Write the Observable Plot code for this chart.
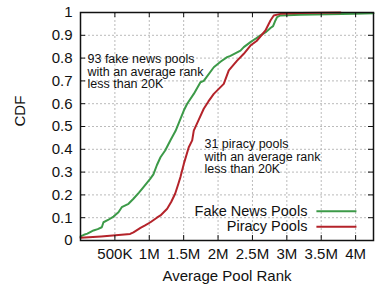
<!DOCTYPE html>
<html><head><meta charset="utf-8">
<script src="https://cdn.jsdelivr.net/npm/d3@7"></script>
<script src="https://cdn.jsdelivr.net/npm/@observablehq/plot@0.6"></script>
<style>body{margin:0;background:#fff}</style>
</head><body><div id="chart"></div>
<script>
const fakeRank = [0, 50, 100, 189, 250, 310, 334, 400, 480, 552, 600, 698, 770, 850, 916, 1013, 1060, 1110, 1163, 1231, 1308, 1381, 1405, 1502, 1551, 1647, 1744, 1792, 1938, 2040, 2132, 2180, 2326, 2374, 2471, 2560, 2616, 2700, 2762, 2800, 2834, 2858, 2907, 3200, 3600, 4000, 4260].map(v => v * 1000);
const fakeCdf = [0.018, 0.025, 0.03, 0.044, 0.05, 0.058, 0.08, 0.09, 0.105, 0.124, 0.146, 0.161, 0.183, 0.21, 0.234, 0.27, 0.29, 0.33, 0.365, 0.395, 0.44, 0.48, 0.497, 0.57, 0.6, 0.643, 0.694, 0.70, 0.76, 0.785, 0.804, 0.81, 0.833, 0.848, 0.87, 0.888, 0.9, 0.915, 0.932, 0.94, 0.965, 0.98, 0.987, 0.99, 0.992, 0.995, 0.997];
const piracyRank = [0, 300, 722, 770, 872, 939, 1017, 1110, 1163, 1260, 1320, 1376, 1423, 1453, 1502, 1574, 1624, 1647, 1720, 1792, 1860, 1938, 2083, 2156, 2277, 2374, 2471, 2560, 2689, 2762, 2810, 2907, 3200, 3780].map(v => v * 1000);
const piracyCdf = [0.012, 0.018, 0.029, 0.036, 0.055, 0.066, 0.08, 0.1, 0.11, 0.139, 0.17, 0.205, 0.249, 0.278, 0.336, 0.409, 0.439, 0.482, 0.53, 0.578, 0.61, 0.643, 0.687, 0.746, 0.789, 0.819, 0.855, 0.875, 0.921, 0.965, 0.987, 0.994, 0.998, 1.0];

const xTicks = [500000, 1000000, 1500000, 2000000, 2500000, 3000000, 3500000, 4000000];
const xTickLabels = ["500K", "1M", "1.5M", "2M", "2.5M", "3M", "3.5M", "4M"];
const yTicks = [0, 0.1, 0.2, 0.3, 0.4, 0.5, 0.6, 0.7, 0.8, 0.9, 1];
const yTickLabels = ["0", "0.1", "0.2", "0.3", "0.4", "0.5", "0.6", "0.7", "0.8", "0.9", "1"];
const seriesNames = ["Fake News Pools", "Piracy Pools"];
const seriesColors = ["#3c9a48", "#b4232a"];
const annotationTexts = ["93 fake news pools\nwith an average rank\nless than 20K", "31 piracy pools\nwith an average rank\nless than 20K"];

const data = [
  ...fakeRank.map((r, i) => ({rank: r, cdf: fakeCdf[i], series: seriesNames[0]})),
  ...piracyRank.map((r, i) => ({rank: r, cdf: piracyCdf[i], series: seriesNames[1]}))
];
const innerTicksY = yTicks.slice(1, -1);
const legendY = [0.128, 0.060];
const font = "'Liberation Sans', Arial, Helvetica, sans-serif";

const chart = Plot.plot({
  width: 376, height: 292,
  marginLeft: 80, marginRight: 3, marginTop: 12, marginBottom: 52,
  x: {domain: [0, 4260000]},
  y: {domain: [0, 1]},
  color: {domain: seriesNames, range: seriesColors},
  style: {fontFamily: font, fontSize: "15px", color: "#111", background: "#fff"},
  marks: [
    Plot.gridX(xTicks, {stroke: "#bbb", strokeOpacity: 1, strokeDasharray: "2,2"}),
    Plot.gridY(innerTicksY, {stroke: "#bbb", strokeOpacity: 1, strokeDasharray: "2,2"}),
    Plot.line(data, {x: "rank", y: "cdf", z: "series", stroke: "series", strokeWidth: 2}),
    Plot.frame({stroke: "#111", strokeWidth: 1.5}),
    Plot.tickX(xTicks, {x: d => d, insetTop: 223, stroke: "#111"}),
    Plot.tickX(xTicks, {x: d => d, insetBottom: 223, stroke: "#111"}),
    Plot.tickY(innerTicksY, {y: d => d, insetRight: 288, stroke: "#111"}),
    Plot.tickY(innerTicksY, {y: d => d, insetLeft: 288, stroke: "#111"}),
    Plot.axisX(xTicks, {tickSize: 0, tickPadding: 8, label: null, fontSize: 15, tickFormat: d => xTickLabels[xTicks.indexOf(d)]}),
    Plot.axisY(yTicks, {tickSize: 0, tickPadding: 8, label: null, fontSize: 15, tickFormat: d => yTickLabels[yTicks.indexOf(d)]}),
    Plot.text(["Average Pool Rank"], {frameAnchor: "bottom", dy: 40, fontSize: 15, text: d => d}),
    Plot.text(["CDF"], {frameAnchor: "left", dx: -60, rotate: -90, fontSize: 15, text: d => d}),
    Plot.text([annotationTexts[0]], {x: 102000, y: 0.817, text: d => d, textAnchor: "start", lineAnchor: "top", fontSize: 12.5, lineHeight: 1}),
    Plot.text([annotationTexts[1]], {x: 1802000, y: 0.443, text: d => d, textAnchor: "start", lineAnchor: "top", fontSize: 12.5, lineHeight: 1}),
    Plot.text(seriesNames, {x: 3299000, y: (d, i) => legendY[i], text: d => d, textAnchor: "end", fontSize: 14.5}),
    Plot.link(seriesNames, {x1: 3430000, x2: 4012000, y1: (d, i) => legendY[i], y2: (d, i) => legendY[i], stroke: d => d, strokeWidth: 2})
  ]
});
document.getElementById("chart").appendChild(chart);
</script>
</body></html>
